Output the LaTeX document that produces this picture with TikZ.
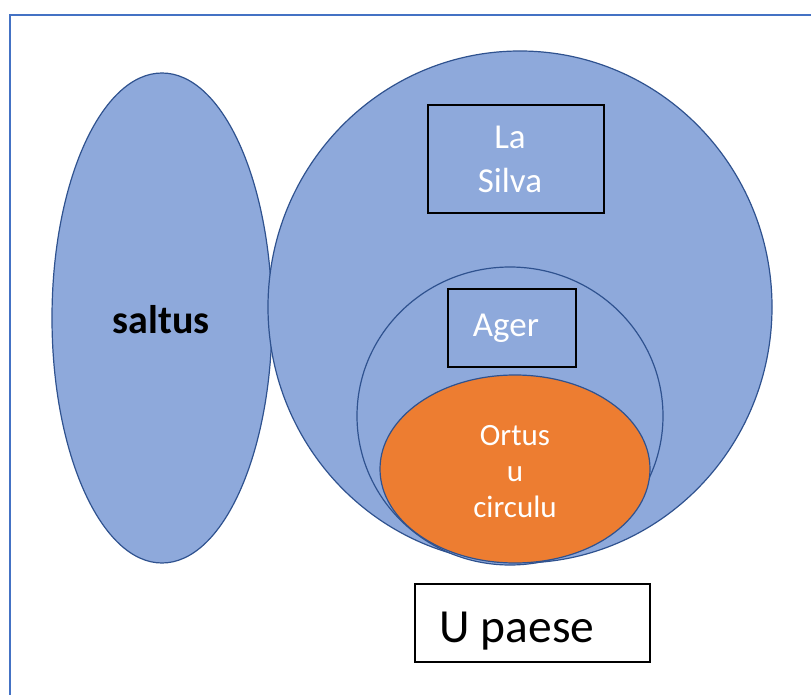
\documentclass[tikz,border=0pt]{standalone}
\usepackage{fontspec}
\setmainfont{Carlito}
\definecolor{fillblue}{HTML}{8EA9DB}
\definecolor{edgeblue}{HTML}{2F528F}
\definecolor{frameblue}{HTML}{4472C4}
\definecolor{orangefill}{HTML}{ED7D31}
\tikzset{
  zone/.style={draw=edgeblue, line width=1.2pt, fill=fillblue, ellipse, inner sep=0pt},
  labelbox/.style={draw=black, line width=1.3pt, inner sep=0pt, align=center},
}
\usetikzlibrary{shapes.geometric}
\begin{document}
\begin{tikzpicture}[x=1pt,y=-1pt]
\useasboundingbox (0,0) rectangle (811,695);
\begin{scope}
\clip (0,0) rectangle (811,695);
\draw[frameblue, line width=1.5pt] (10,15) rectangle (830,720);
\end{scope}
% saltus
\node[zone, minimum width=220pt, minimum height=490pt] (saltus) at (162,318) {};
\node[font=\fontsize{40}{48}\selectfont\bfseries, text=black] (saltustxt) at (161,320) {saltus};
% big circle
\node[zone, minimum width=504pt, minimum height=512pt] (big) at (520,307) {};
% middle circle
\node[zone, minimum width=306pt, minimum height=298pt] (mid) at (510,416) {};
% orange
\node[zone, fill=orangefill, minimum width=270pt, minimum height=188pt] (ortus) at (515,469) {};
\node[font=\fontsize{31}{36}\selectfont, text=white, align=center] (ortustxt) at (515,472) {Ortus\\u\\circulu};
% boxes
\node[labelbox, minimum width=176pt, minimum height=108pt] (silva) at (516,159) {};
\node[font=\fontsize{35}{44}\selectfont, text=white, align=center] (silvatxt) at (510,159) {La\\Silva};
\node[labelbox, minimum width=128pt, minimum height=78pt] (ager) at (512,328) {};
\node[font=\fontsize{35}{42}\selectfont, text=white] (agertxt) at (506,328) {Ager};
\node[labelbox, minimum width=235pt, minimum height=78pt, fill=white] (paese) at (532.5,623) {};
\node[font=\fontsize{47.5}{56}\selectfont, text=black, anchor=base west] (paesetxt) at (436,642) {U paese};
\end{tikzpicture}
\end{document}
